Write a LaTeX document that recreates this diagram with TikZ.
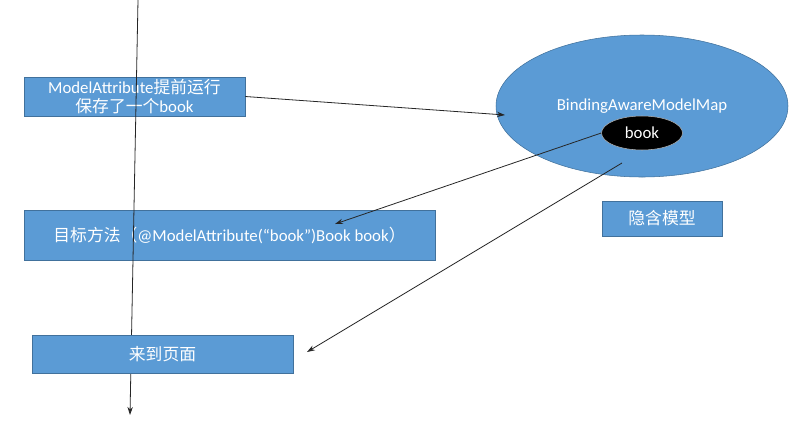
\documentclass[tikz,border=0pt]{standalone}
\usepackage{fontspec}
\setmainfont{Carlito}
\newfontfamily\cjk{Noto Sans CJK SC}
\usetikzlibrary{shapes.geometric,arrows.meta}

\definecolor{boxblue}{RGB}{91,155,213}
\definecolor{boxedge}{RGB}{65,113,156}

\begin{document}
\begin{tikzpicture}[x=0.75pt,y=0.75pt,yscale=-1,xscale=1,
  bluebox/.style={draw=boxedge,fill=boxblue,text=white,inner sep=0pt,align=center,font=\fontsize{12.6}{14.5}\selectfont},
  flow/.style={draw=black!85,line width=0.6pt,-{Stealth[length=6pt,width=4pt]}}]
    \useasboundingbox (0,0) rectangle (807,429);

    % Boxes on the left
    \node [bluebox,minimum width=165.75pt,minimum height=29.25pt] (early) at (134.5,96.5) {ModelAttribute{\cjk 提前运行}\\{\cjk 保存了一个}book};
    \node [bluebox,minimum width=308.25pt,minimum height=37.5pt] (target) at (229.5,235) {{\cjk 目标方法（}@ModelAttribute(“book”)Book book{\cjk ）}};

    % Time line
    \coordinate (tstart) at (138,0);
    \coordinate (tend) at (130,415);
    \draw [flow] (tstart) -- (tend);

    \node [bluebox,minimum width=195.75pt,minimum height=28.5pt] (page) at (162.5,354) {\cjk 来到页面};
    \node [bluebox,minimum width=90pt,minimum height=26.25pt] (implicit) at (662,218.5) {\cjk 隐含模型};

    % Model map
    \node [ellipse,draw=boxedge,fill=boxblue,text=white,inner sep=0pt,minimum width=219pt,minimum height=106.5pt,font=\fontsize{12.6}{14.5}\selectfont] (map) at (642,106) {BindingAwareModelMap};
    \node [ellipse,draw=black!30,fill=black,text=white,inner sep=0pt,minimum width=60.75pt,minimum height=25.5pt,font=\fontsize{12.6}{14.5}\selectfont] (book) at (642,133) {book};

    % Arrows
    \coordinate (mapin) at (505,115);
    \coordinate (mapout) at (622,163);
    \coordinate (targetin) at (335,224);
    \coordinate (pagein) at (307,352);
    \draw [flow] (early.east) -- (mapin);
    \draw [flow] (book.west) -- (targetin);
    \draw [flow] (mapout) -- (pagein);

\end{tikzpicture}
\end{document}
